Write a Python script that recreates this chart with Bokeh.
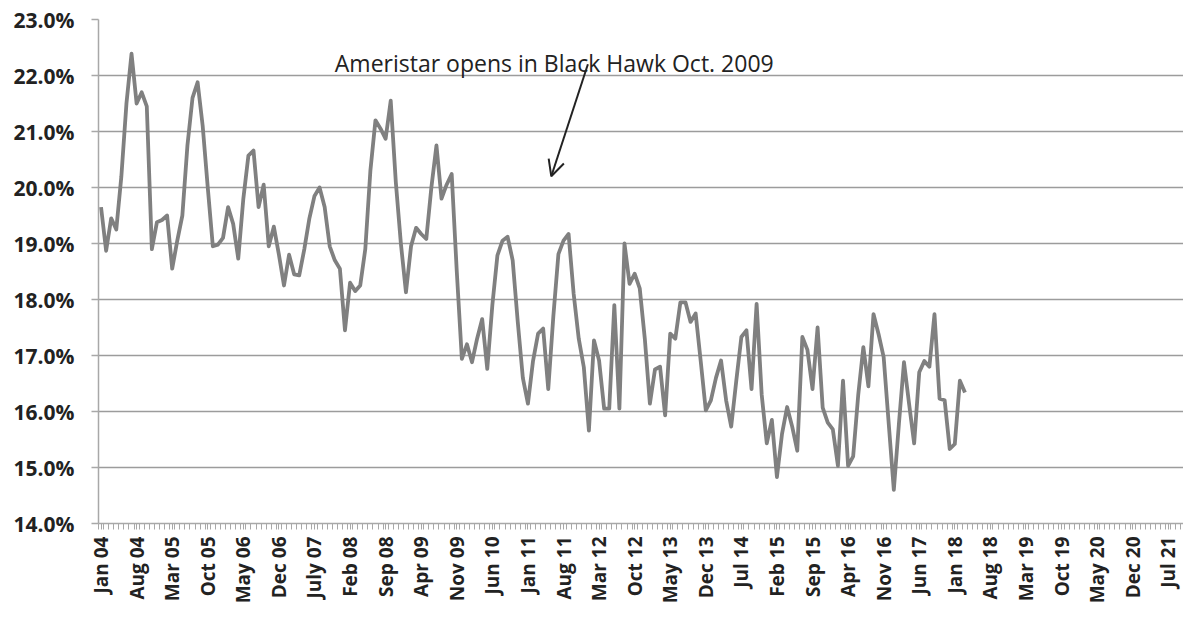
from bokeh.plotting import figure
from bokeh.models import (FixedTicker, PrintfTickFormatter, CustomJSTickFormatter,
                          Range1d, Arrow, OpenHead, Label)
from bokeh.embed import file_html
from bokeh.resources import INLINE

# Monthly share (%) from Jan 04 onward
VALUES = [
    19.65, 18.87, 19.45, 19.25, 20.2, 21.5, 22.39, 21.5, 21.7, 21.45,
    18.9, 19.38, 19.42, 19.5, 18.55, 19.05, 19.5, 20.75, 21.6, 21.88,
    21.1, 20.0, 18.95, 18.98, 19.1, 19.65, 19.35, 18.73, 19.8, 20.57,
    20.66, 19.65, 20.05, 18.95, 19.3, 18.8, 18.25, 18.8, 18.45, 18.43,
    18.9, 19.45, 19.85, 20.0, 19.65, 18.95, 18.7, 18.55, 17.45, 18.3,
    18.15, 18.25, 18.9, 20.3, 21.2, 21.05, 20.87, 21.55, 20.1, 19.0,
    18.13, 18.95, 19.28, 19.17, 19.08, 20.0, 20.75, 19.8, 20.05, 20.24,
    18.5, 16.94, 17.2, 16.88, 17.3, 17.65, 16.76, 17.9, 18.79, 19.05,
    19.12, 18.7, 17.6, 16.6, 16.14, 16.9, 17.39, 17.48, 16.4, 17.7,
    18.81, 19.05, 19.17, 18.1, 17.3, 16.79, 15.66, 17.27, 16.91, 16.05,
    16.05, 17.9, 16.05, 19.0, 18.28, 18.46, 18.2, 17.3, 16.14, 16.75,
    16.8, 15.93, 17.39, 17.3, 17.95, 17.95, 17.6, 17.75, 16.9, 16.02,
    16.2, 16.6, 16.91, 16.2, 15.73, 16.55, 17.33, 17.45, 16.4, 17.92,
    16.3, 15.43, 15.85, 14.83, 15.6, 16.08, 15.73, 15.3, 17.33, 17.1,
    16.4, 17.5, 16.07, 15.8, 15.68, 15.03, 16.55, 15.03, 15.2, 16.3,
    17.15, 16.45, 17.74, 17.38, 16.97, 15.78, 14.6, 15.78, 16.88, 16.14,
    15.43, 16.7, 16.9, 16.8, 17.74, 16.23, 16.2, 15.33, 15.42, 16.55,
    16.34,
]

TICK_LABELS = ["Jan 04", "Aug 04", "Mar 05", "Oct 05", "May 06", "Dec 06",
               "July 07", "Feb 08", "Sep 08", "Apr 09", "Nov 09", "Jun 10",
               "Jan 11", "Aug 11", "Mar 12", "Oct 12", "May 13", "Dec 13",
               "Jul 14", "Feb 15", "Sep 15", "Apr 16", "Nov 16", "Jun 17",
               "Jan 18", "Aug 18", "Mar 19", "Oct 19", "May 20", "Dec 20",
               "Jul 21"]
TICK_STEP = 7  # months between labelled categories
N_CATEGORIES = 214  # months on the category axis

Y_TICKS = [14.0, 15.0, 16.0, 17.0, 18.0, 19.0, 20.0, 21.0, 22.0, 23.0]

ANNOTATION = "Ameristar opens in Black Hawk Oct. 2009"

xs = list(range(len(VALUES)))
tick_pos = [i * TICK_STEP for i in range(len(TICK_LABELS))]
label_map = {str(p): t for p, t in zip(tick_pos, TICK_LABELS)}

p = figure(width=1183, height=607, output_backend="svg", toolbar_location=None,
           x_range=Range1d(-0.5, N_CATEGORIES - 1.0), y_range=Range1d(14, 23),
           min_border_left=98, min_border_right=0, min_border_top=19,
           min_border_bottom=84)
p.outline_line_color = None
p.background_fill_color = "white"
p.border_fill_color = "white"

p.line(xs, VALUES, line_color="#808080", line_width=3.8, line_join="round")

# axes
p.xgrid.grid_line_color = None
p.ygrid.grid_line_color = "#9c9c9c"
p.ygrid.grid_line_width = 1.5

p.yaxis.ticker = FixedTicker(ticks=Y_TICKS)
p.yaxis.formatter = PrintfTickFormatter(format="%.1f%%")
p.yaxis.major_label_text_font = "Open Sans"
p.yaxis.major_label_text_font_style = "bold"
p.yaxis.major_label_text_font_size = "21px"
p.yaxis.major_label_text_color = "#222222"
p.yaxis.axis_line_color = "#a8a8a8"
p.yaxis.axis_line_width = 1.5
p.yaxis.major_tick_line_color = "#a8a8a8"
p.yaxis.major_tick_line_width = 1.5
p.yaxis.major_tick_out = 7
p.yaxis.major_tick_in = 0
p.yaxis.minor_tick_line_color = None
p.yaxis.major_label_standoff = 17

p.xaxis.ticker = FixedTicker(ticks=tick_pos,
                             minor_ticks=[i - 0.5 for i in range(N_CATEGORIES + 1)])
p.xaxis.formatter = CustomJSTickFormatter(args=dict(labels=label_map),
                                          code="return labels[String(Math.round(tick))] || '';")
p.xaxis.major_label_orientation = 1.5707963
p.xaxis.major_label_text_font = "Open Sans"
p.xaxis.major_label_text_font_style = "bold"
p.xaxis.major_label_text_font_size = "19px"
p.xaxis.major_label_text_color = "#222222"
p.xaxis.axis_line_color = "#a8a8a8"
p.xaxis.axis_line_width = 1.5
p.xaxis.major_tick_line_color = "#a8a8a8"
p.xaxis.major_tick_out = 6
p.xaxis.major_tick_in = 0
p.xaxis.minor_tick_line_color = "#a8a8a8"
p.xaxis.minor_tick_out = 6
p.xaxis.minor_tick_in = 0
p.xaxis.major_label_standoff = 7

# annotation
p.add_layout(Label(x=46.0, y=22.22, text=ANNOTATION, text_font="Open Sans",
                   text_font_size="23px", text_color="#222222",
                   text_baseline="alphabetic", text_align="left"))
p.add_layout(Arrow(x_start=95.8, y_start=22.2, x_end=88.6, y_end=20.2,
                   line_color="#222222", line_width=2,
                   end=OpenHead(size=16, line_width=2, line_color="#222222")))

open("out.html", "w").write(file_html(p, INLINE))
